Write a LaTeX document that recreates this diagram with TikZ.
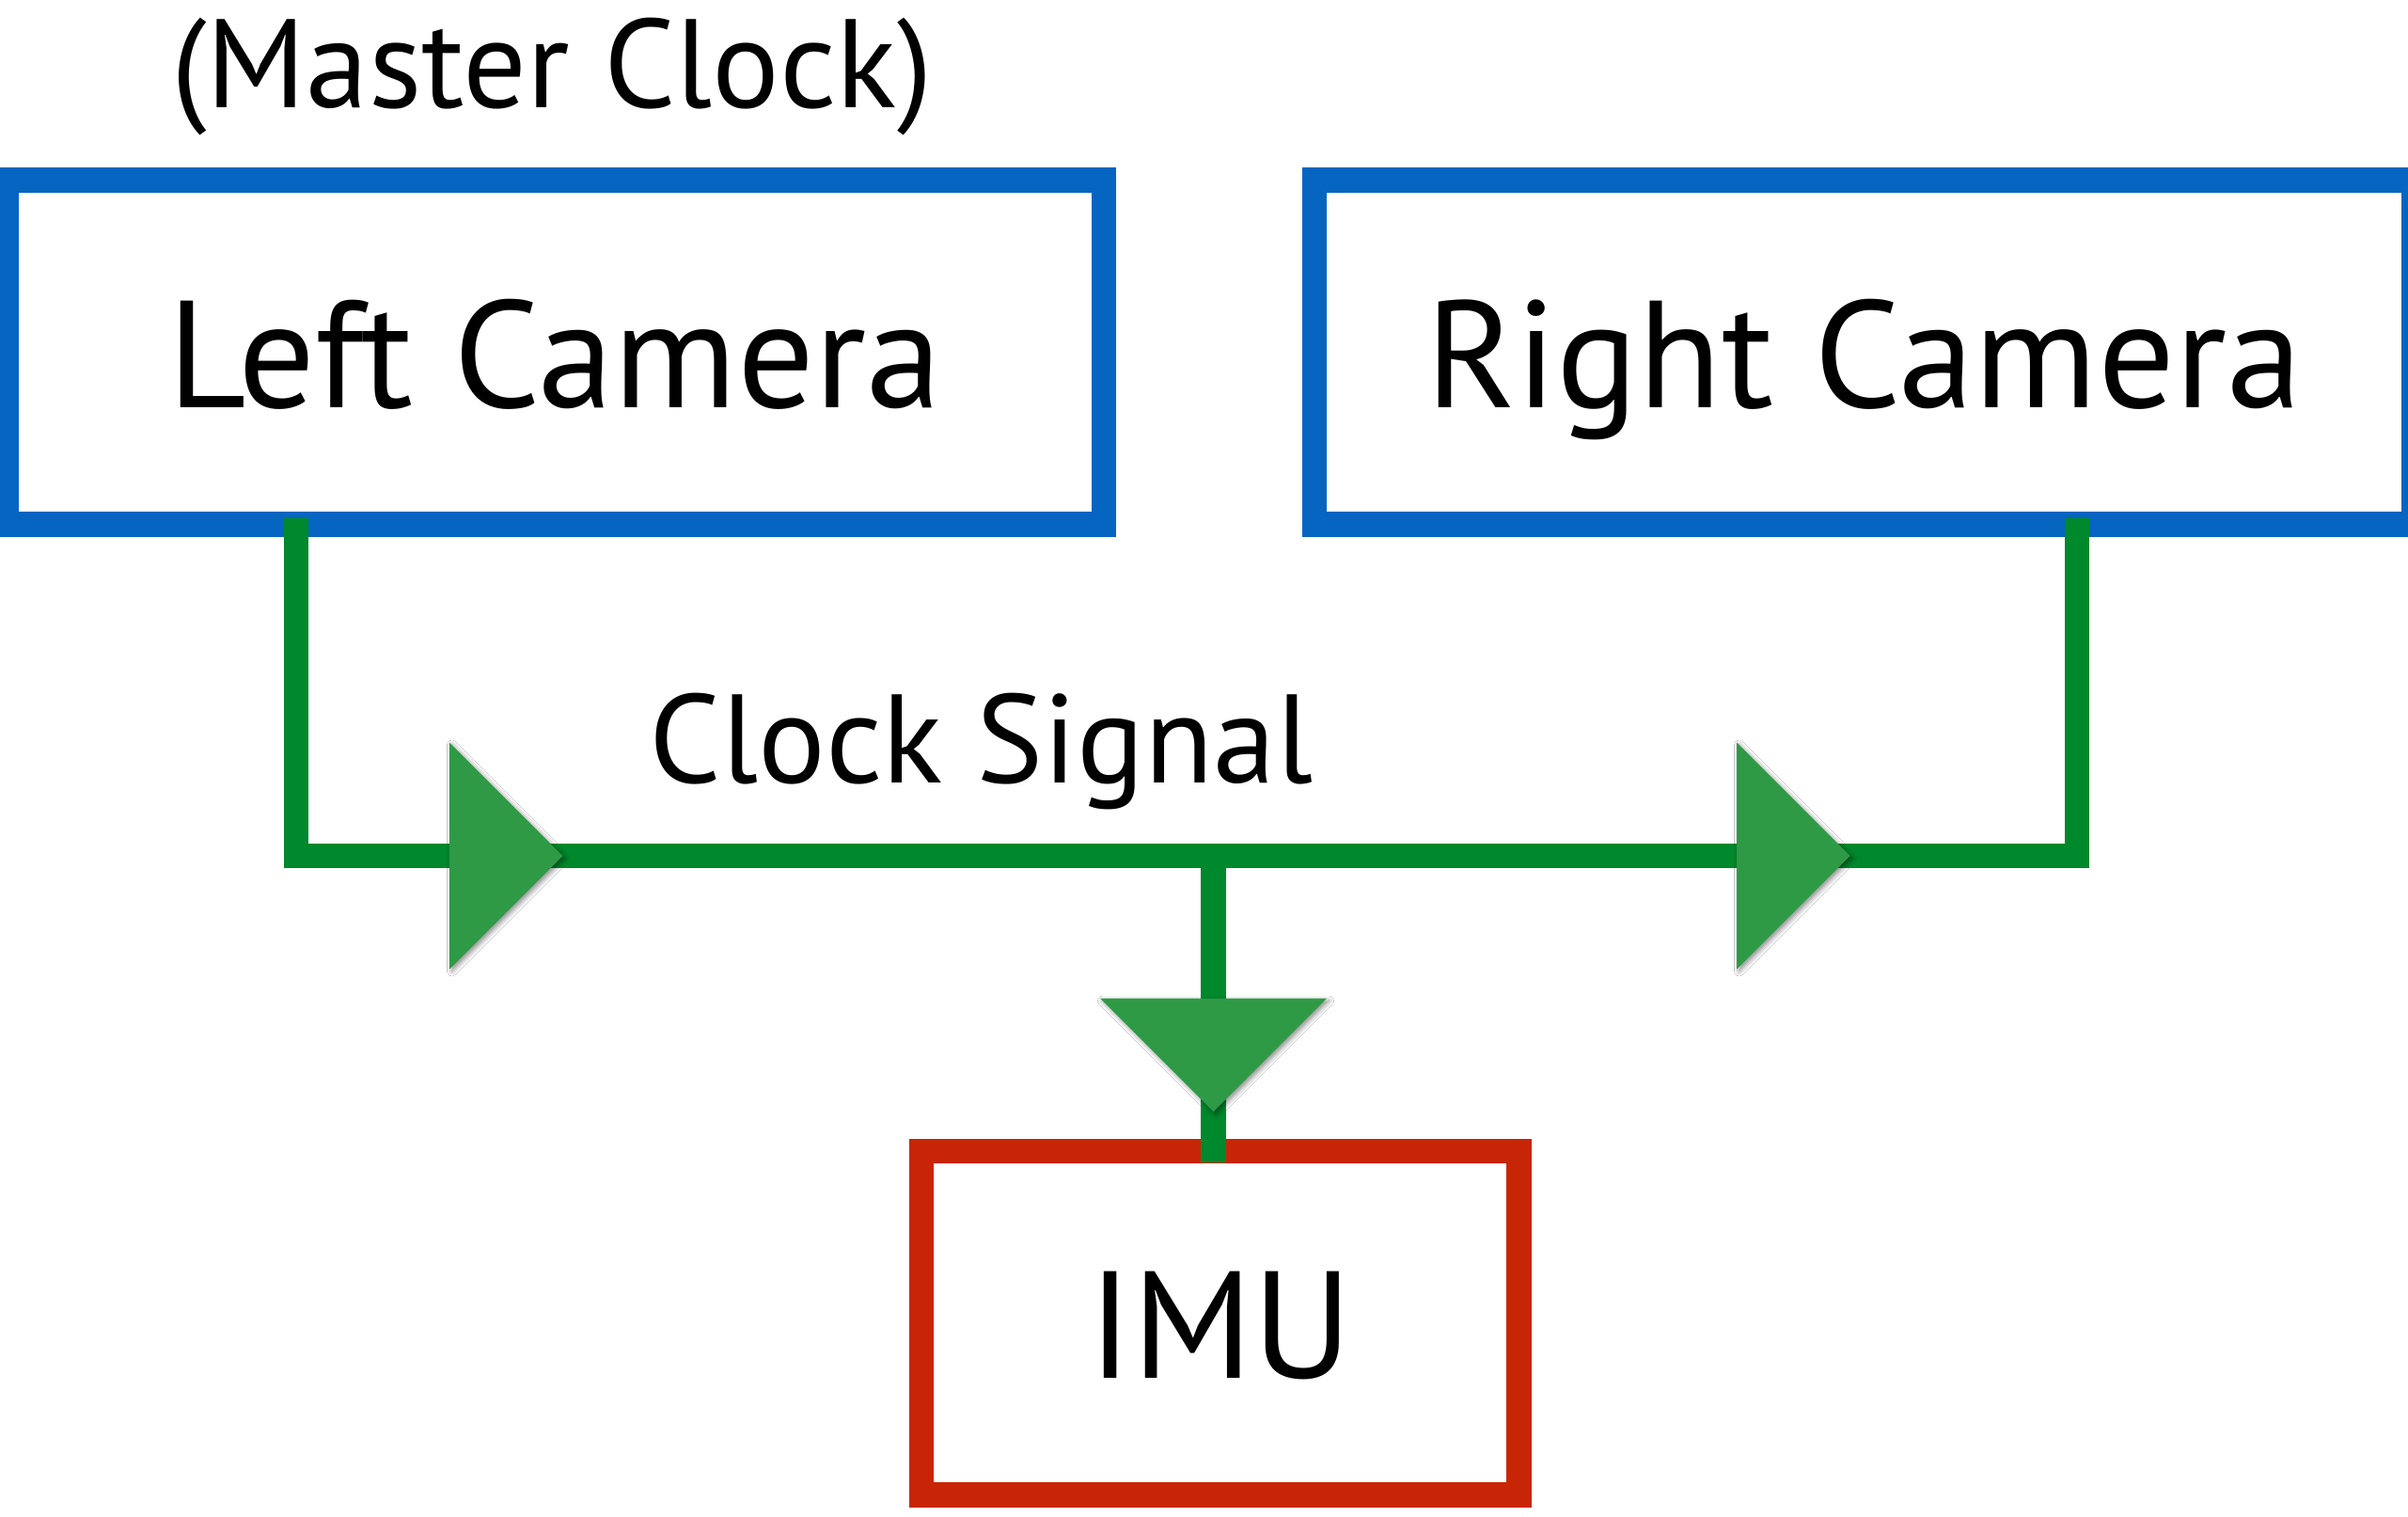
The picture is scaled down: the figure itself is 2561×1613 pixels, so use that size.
\documentclass[tikz,border=0pt]{standalone}
\usepackage{fontspec}
\setmainfont{PT Sans}
\usetikzlibrary{shadows.blur}
\definecolor{camblue}{HTML}{0565C0}
\definecolor{imured}{HTML}{C82506}
\definecolor{sigline}{HTML}{00882C}
\definecolor{sigtri}{HTML}{2E9A45}
\begin{document}
\begin{tikzpicture}[x=1pt,y=-1pt,
  box/.style={draw, line width=26.5pt, fill=white, inner sep=0pt, text height=118pt, text depth=0pt, font=\fontsize{162}{170}\selectfont},
  cambox/.style={box, draw=camblue, minimum width=1167pt, minimum height=366pt},
  sig/.style={draw=sigline, line width=26.5pt},
  tri/.style={fill=sigtri, blur shadow={shadow xshift=2.5pt, shadow yshift=-2.5pt, shadow blur radius=5pt, shadow opacity=45}},
  lbl/.style={anchor=base, font=\fontsize{134}{140}\selectfont, inner sep=0pt}]
\useasboundingbox (0,0) rectangle (2561,1613);
\fill[white] (0,0) rectangle (2561,1613);
% boxes
\node[cambox] (lcam) at (590.5,374.5) {Left Camera};
\node[cambox, minimum width=1169pt] (rcam) at (1982.5,374.5) {Right Camera};
\node[box, draw=imured, minimum width=635.7pt, minimum height=365.3pt] (imu) at (1297.8,1406.7) {IMU};
% labels
\node[lbl] (master) at (587,115) {(Master Clock)};
\node[lbl] (clk) at (1043.5,832) {Clock Signal};
% connector points
\coordinate (ls) at (315,551);
\coordinate (lj) at (315,910);
\coordinate (rj) at (2209,910);
\coordinate (rs) at (2209,551);
\coordinate (mj) at (1290.5,910);
\coordinate (mi) at (1290.5,1236);
\draw[sig] (ls) -- (lj) -- (rj) -- (rs);
\draw[sig] (mj) -- (mi);
% arrowheads
\path[tri] (478,789.5) -- (598.5,910) -- (478,1030.5) -- cycle;
\path[tri] (1847,789.5) -- (1967.5,910) -- (1847,1030.5) -- cycle;
\path[tri] (1170,1061.5) -- (1411,1061.5) -- (1290.5,1182) -- cycle;
\end{tikzpicture}
\end{document}
